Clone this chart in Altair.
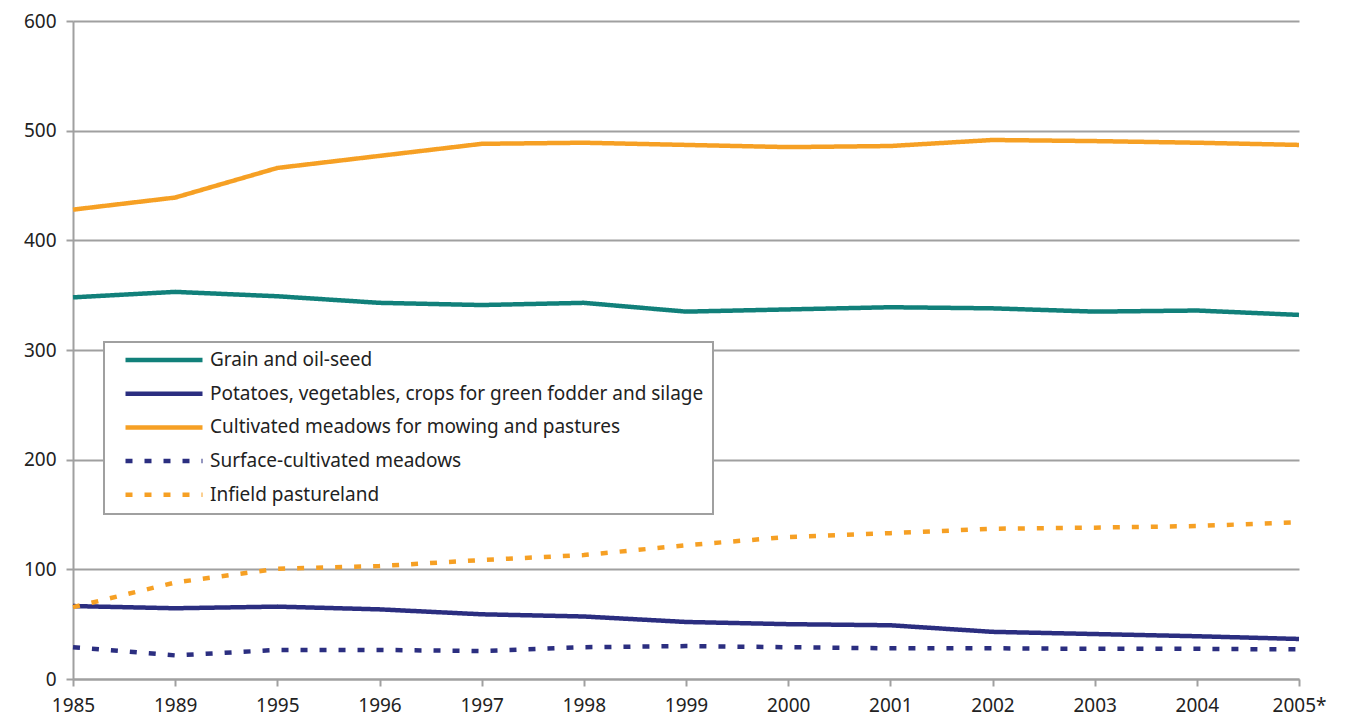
import altair as alt
import pandas as pd

years = ["1985", "1989", "1995", "1996", "1997", "1998", "1999", "2000", "2001", "2002", "2003", "2004", "2005*"]

series_names = [
    "Grain and oil-seed",
    "Potatoes, vegetables, crops for green fodder and silage",
    "Cultivated meadows for mowing and pastures",
    "Surface-cultivated meadows",
    "Infield pastureland",
]

grain = [348, 353, 349, 343, 341, 343, 335, 337, 339, 338, 335, 336, 332]
potatoes = [66.5, 64.5, 66, 63.5, 59, 57, 52, 50, 49, 43, 41, 39, 36.5]
meadows = [428, 439, 466, 477, 488, 489, 487, 485, 486, 491.5, 490.5, 489, 487]
surface = [29, 21.5, 26.5, 26.5, 25.5, 29, 30, 29, 28, 28, 27.5, 27.5, 27]
infield = [65.5, 88, 100.5, 103, 108.5, 113, 122, 129.5, 133, 137, 138, 139.5, 143]

colors = ["#11807a", "#2b2e80", "#f6a024", "#2b2e80", "#f6a024"]
dashes = [[1, 0], [1, 0], [1, 0], [7, 12], [7, 12]]

rows = []
for name, vals in zip(series_names, [grain, potatoes, meadows, surface, infield]):
    for i, (y, v) in enumerate(zip(years, vals)):
        rows.append({"year": y, "value": v, "series": name, "order": i})
df = pd.DataFrame(rows)

FONT = "Noto Sans"
FS = 19

lines = alt.Chart(df).mark_line(strokeWidth=4.5, strokeCap="butt").encode(
    x=alt.X("year:O", sort=years, scale=alt.Scale(type="point", padding=0),
            axis=alt.Axis(title=None, labelAngle=0, grid=False, tickSize=7,
                          labelPadding=10, domainColor="#a0a0a0", domainWidth=2,
                          tickColor="#a0a0a0", tickWidth=2)),
    y=alt.Y("value:Q", scale=alt.Scale(domain=[0, 600], nice=False),
            axis=alt.Axis(title=None, values=[0, 100, 200, 300, 400, 500, 600],
                          grid=True, gridColor="#a0a0a0", gridWidth=2, tickSize=7,
                          labelPadding=10, domainColor="#a0a0a0", domainWidth=2,
                          tickColor="#a0a0a0", tickWidth=2)),
    color=alt.Color("series:N", sort=series_names,
                    scale=alt.Scale(domain=series_names, range=colors),
                    legend=alt.Legend(title=None, orient="none", legendX=31, legendY=321,
                                      symbolType="stroke", symbolSize=5929,
                                      symbolStrokeWidth=4.5, clipHeight=18, rowPadding=14.7,
                                      padding=9, symbolOffset=10, labelOffset=5,
                                      strokeColor="#a0a0a0", fillColor="white",
                                      labelFontSize=FS, labelFont=FONT, labelColor="#222222",
                                      labelLimit=700)),
    strokeDash=alt.StrokeDash("series:N", sort=series_names,
                              scale=alt.Scale(domain=series_names, range=dashes),
                              legend=None),
    detail="series:N",
    order="order:Q",
)

topline = alt.Chart(pd.DataFrame({"a": [0]})).mark_rule(color="black", strokeWidth=2).encode(
    x=alt.value(-73), x2=alt.value(1274), y=alt.value(-20)
)

chart = alt.layer(topline, lines).properties(
    width=1226, height=658,
    autosize=alt.AutoSizeParams(type="none"),
    padding={"left": 65, "top": 13, "right": 40, "bottom": 40},
).configure_view(stroke=None).configure_axis(
    labelFont=FONT, labelFontSize=FS, labelColor="#222222"
).configure_legend(strokeWidth=2)

chart.save("out.html", embed_options={"renderer": "svg", "actions": False})
